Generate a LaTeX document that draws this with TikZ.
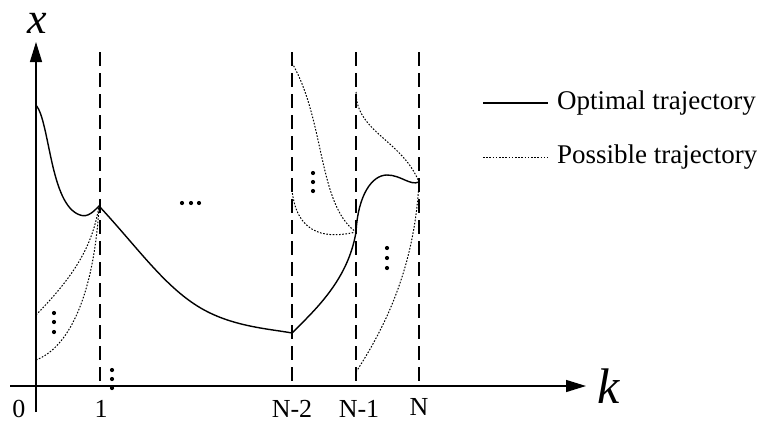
\documentclass[tikz,border=0pt]{standalone}
\usepackage{fontspec}
\setmainfont{Liberation Serif}
\usetikzlibrary{arrows.meta}
\begin{document}
\begin{tikzpicture}[x=1pt,y=-1pt,
  axis/.style={line width=1.4pt,-{Triangle[length=20pt,width=12pt]}},
  stage/.style={line width=1.9pt,dash pattern=on 14pt off 7pt},
  optimal/.style={line width=1.4pt},
  possible/.style={line width=1pt,dash pattern=on 1.6pt off 1.6pt},
  ticklab/.style={font=\fontsize{26}{28}\selectfont,inner sep=0pt},
  leglab/.style={font=\fontsize{27}{30}\selectfont,inner sep=0pt,anchor=west},
  vdot/.style={fill=black,draw=none}]
\useasboundingbox (0,0) rectangle (757,423);
% axes
\coordinate (ybot) at (36,412);
\coordinate (ytop) at (36,42);
\coordinate (xl) at (10,386);
\coordinate (xr) at (586,386);
\draw[axis] (ybot) -- (ytop);
\draw[axis] (xl) -- (xr);
\node[font=\fontsize{44}{44}\selectfont\itshape,inner sep=0pt,anchor=base] (xlab) at (37,33) {x};
\node[font=\fontsize{50}{50}\selectfont\itshape,inner sep=0pt,anchor=base] (klab) at (609,403) {k};
% stage lines
\foreach \n/\x in {s1/100,s2/292,s3/356,s4/419}{
  \coordinate (\n top) at (\x,52);
  \coordinate (\n bot) at (\x,386);
  \draw[stage] (\n top) -- (\n bot);
}
% tick labels
\node[ticklab] (t0) at (19,409) {0};
\node[ticklab] (t1) at (101,409) {1};
\node[ticklab] (t2) at (292,409) {N-2};
\node[ticklab] (t3) at (359,409) {N-1};
\node[ticklab] (t4) at (419,407) {N};
% key points
\coordinate (p0) at (36,105);
\coordinate (p1) at (99,206);
\coordinate (p2) at (292,333);
\coordinate (p3) at (356,232);
\coordinate (p4) at (419,182);
% optimal trajectory
\draw[optimal] (p0) .. controls (50,122) and (50,205) .. (80,215)
  .. controls (88,218) and (94,211) .. (p1)
  .. controls (140,250) and (168,292) .. (208,312)
  .. controls (238,327) and (270,329) .. (p2)
  .. controls (315,310) and (348,280) .. (p3)
  .. controls (358,195) and (372,175) .. (387,175)
  .. controls (401,175) and (410,186) .. (p4);
% possible trajectories
\coordinate (a0) at (36,315);
\coordinate (b0) at (36,360);
\draw[possible] (a0) .. controls (70,280) and (92,250) .. (p1);
\draw[possible] (b0) .. controls (75,345) and (95,280) .. (p1);
\coordinate (a2) at (292,63);
\coordinate (b2) at (292,190);
\draw[possible] (a2) .. controls (325,120) and (318,205) .. (p3);
\draw[possible] (b2) .. controls (297,238) and (330,238) .. (p3);
\coordinate (a3) at (356,92);
\coordinate (b3) at (356,372);
\draw[possible] (a3) .. controls (356,132) and (402,140) .. (p4);
\draw[possible] (b3) .. controls (390,320) and (415,260) .. (p4);
% ellipsis dots
\foreach \x/\y in {54/313,54/322,54/332, 112/370,112/379,112/388,
  313/173,313/182,313/191, 387/248,387/258,387/268,
  182/203,191/203,199/203}{
  \fill[vdot] (\x,\y) circle (2.1pt);
}
% legend
\coordinate (l1a) at (483,103);
\coordinate (l1b) at (548,103);
\coordinate (l2a) at (483,157);
\coordinate (l2b) at (548,157);
\draw[optimal] (l1a) -- (l1b);
\draw[possible] (l2a) -- (l2b);
\node[leglab] (leg1) at (557,103) {Optimal trajectory};
\node[leglab] (leg2) at (557,157) {Possible trajectory};
\end{tikzpicture}
\end{document}
